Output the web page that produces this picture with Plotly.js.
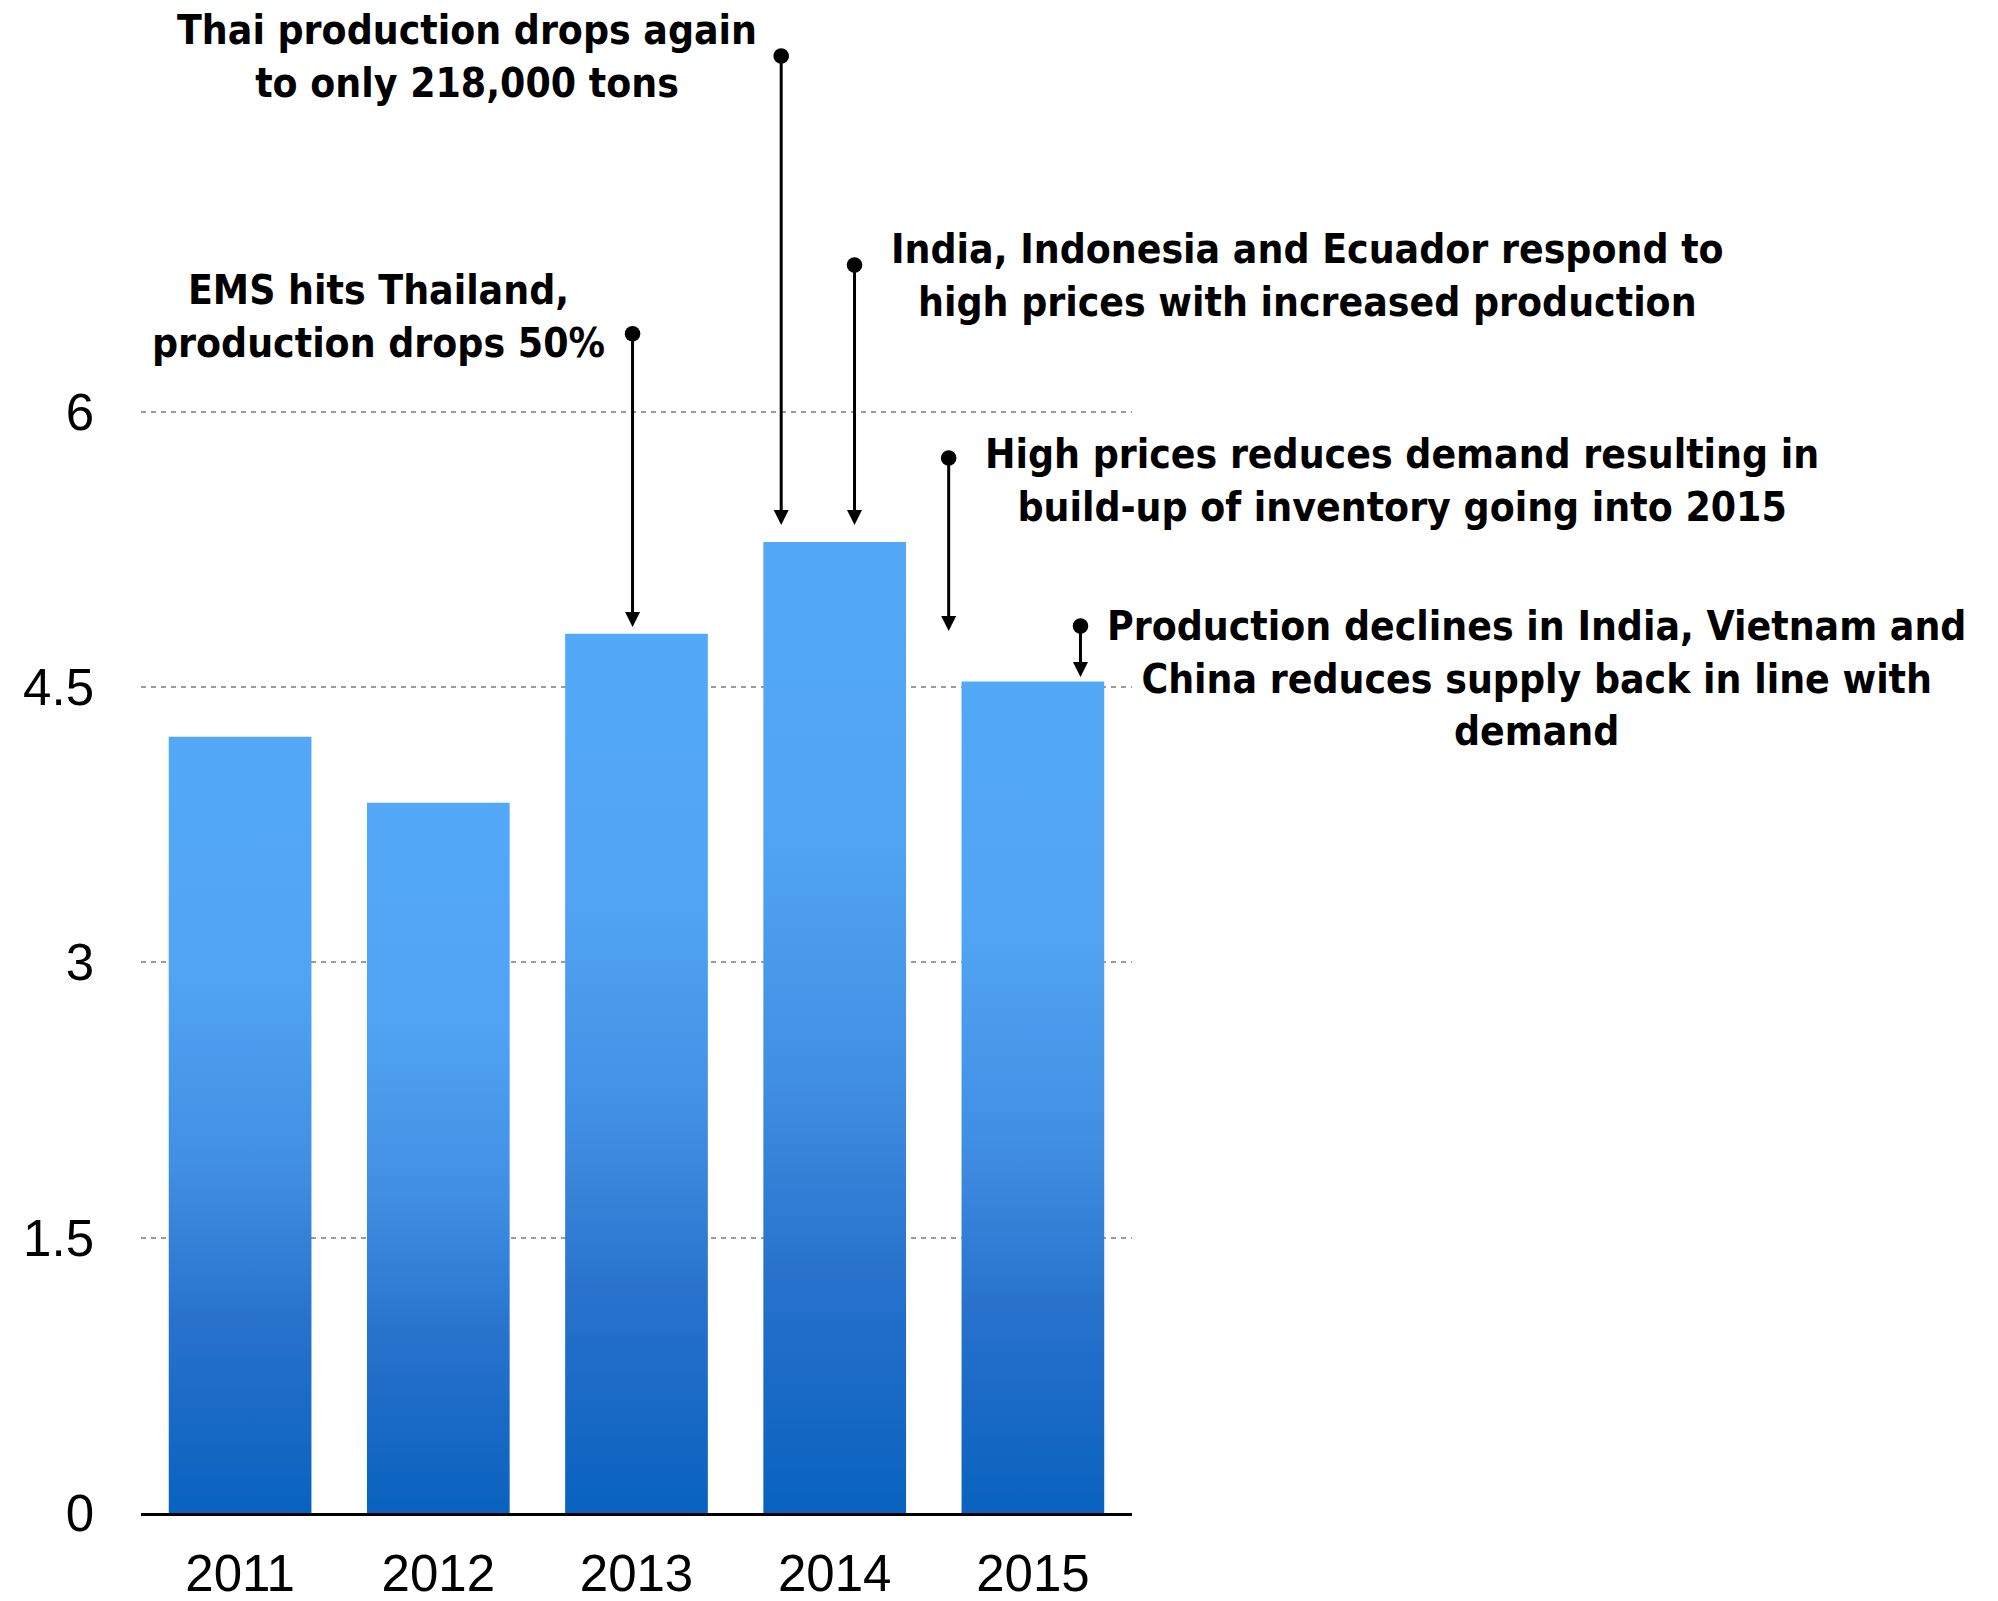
<!DOCTYPE html>
<html>
<head>
<meta charset="utf-8">
<script src="https://cdn.plot.ly/plotly-3.0.1.min.js"></script>
<style>
  html, body { margin: 0; padding: 0; background: #ffffff; }
  #chart { width: 1998px; height: 1601px; }
</style>
</head>
<body>
<div id="chart"></div>
<script>
// ---- data ----
const years = ['2011', '2012', '2013', '2014', '2015'];
const production = [4.23, 3.87, 4.79, 5.29, 4.53];
const yTickVals = [0, 1.5, 3, 4.5, 6];
const yTickText = ['0', '1.5', '3', '4.5', '6'];
const noteTexts = [
  'EMS hits Thailand,<br>production drops 50%',
  'Thai production drops again<br>to only 218,000 tons',
  'India, Indonesia and Ecuador respond to<br>high prices with increased production',
  'High prices reduces demand resulting in<br>build-up of inventory going into 2015',
  'Production declines in India, Vietnam and<br>China reduces supply back in line with<br>demand'
];

// ---- layout of notes (positions, not data) ----
const noteAnchors = [
  {x: 0.2398, y: 0.7953},
  {x: 0.3291, y: 0.9676},
  {x: 1.1772, y: 0.8225},
  {x: 1.2727, y: 0.6861},
  {x: 1.4084, y: 0.5548}
];
const arrowSpecs = [
  {x: 1.98, tip: 4.827, tail: 6.431},
  {x: 2.73, tip: 5.383, tail: 7.944},
  {x: 3.10, tip: 5.383, tail: 6.805},
  {x: 3.575, tip: 4.806, tail: 5.754},
  {x: 4.24, tip: 4.555, tail: 4.838}
];

const noteFont = {family: 'DejaVu Sans Condensed, DejaVu Sans, sans-serif', size: 40.5, color: '#000000', weight: 'bold'};
const tickFont = {family: 'Liberation Sans, Arial, sans-serif', size: 51, color: '#000000'};

const annotations = [];
noteTexts.forEach((t, i) => {
  annotations.push({
    text: t, xref: 'paper', yref: 'paper',
    x: noteAnchors[i].x, y: noteAnchors[i].y,
    xanchor: 'center', yanchor: 'middle', align: 'center',
    showarrow: false, font: noteFont
  });
});
arrowSpecs.forEach(a => {
  annotations.push({
    text: ' ', font: {size: 1}, borderpad: 0,
    xref: 'x', yref: 'y', axref: 'x', ayref: 'y',
    x: a.x, y: a.tip, ax: a.x, ay: a.tail,
    showarrow: true, arrowside: 'end+start',
    arrowhead: 2, arrowsize: 1, startarrowhead: 6, startarrowsize: 1.3,
    arrowwidth: 3, arrowcolor: '#000000', standoff: 0, startstandoff: 0
  });
});

const trace = {
  type: 'bar',
  x: years,
  y: production,
  marker: {color: '#4f9ff0', line: {width: 0}},
  hoverinfo: 'skip'
};

const layout = {
  width: 1998, height: 1601,
  margin: {l: 141, r: 866, t: 8, b: 88},
  paper_bgcolor: '#ffffff', plot_bgcolor: '#ffffff',
  showlegend: false,
  bargap: 0.28,
  xaxis: {
    type: 'category', range: [-0.5, 4.5],
    showline: true, linecolor: '#000000', linewidth: 3,
    showgrid: false, zeroline: false, ticks: '',
    tickfont: tickFont, ticklabelstandoff: 14, fixedrange: true
  },
  yaxis: {
    range: [0, 8.2], tickmode: 'array', tickvals: yTickVals, ticktext: yTickText,
    showline: false, zeroline: false, ticks: '',
    showgrid: true, gridcolor: '#9b9b9b', gridwidth: 2, griddash: '5px,5px',
    tickfont: tickFont, ticklabelstandoff: 46, fixedrange: true
  },
  annotations: annotations
};

Plotly.newPlot('chart', [trace], layout, {displayModeBar: false, staticPlot: true}).then(gd => {
  const svg = gd.querySelector('.main-svg');
  const ns = 'http://www.w3.org/2000/svg';
  let defs = svg.querySelector('defs');
  if (!defs) { defs = document.createElementNS(ns, 'defs'); svg.insertBefore(defs, svg.firstChild); }
  const grad = document.createElementNS(ns, 'linearGradient');
  grad.setAttribute('id', 'barGrad');
  grad.setAttribute('x1', '0'); grad.setAttribute('y1', '0');
  grad.setAttribute('x2', '0'); grad.setAttribute('y2', '1');
  [[0, '#53a8f7'], [0.3, '#51a4f4'], [0.55, '#418fe3'], [0.75, '#2872cc'], [1, '#0962bf']].forEach(s => {
    const st = document.createElementNS(ns, 'stop');
    st.setAttribute('offset', s[0]);
    st.setAttribute('stop-color', s[1]);
    grad.appendChild(st);
  });
  defs.appendChild(grad);
  gd.querySelectorAll('.barlayer .point path').forEach(p => { p.style.fill = 'url(#barGrad)'; });
});
</script>
</body>
</html>
